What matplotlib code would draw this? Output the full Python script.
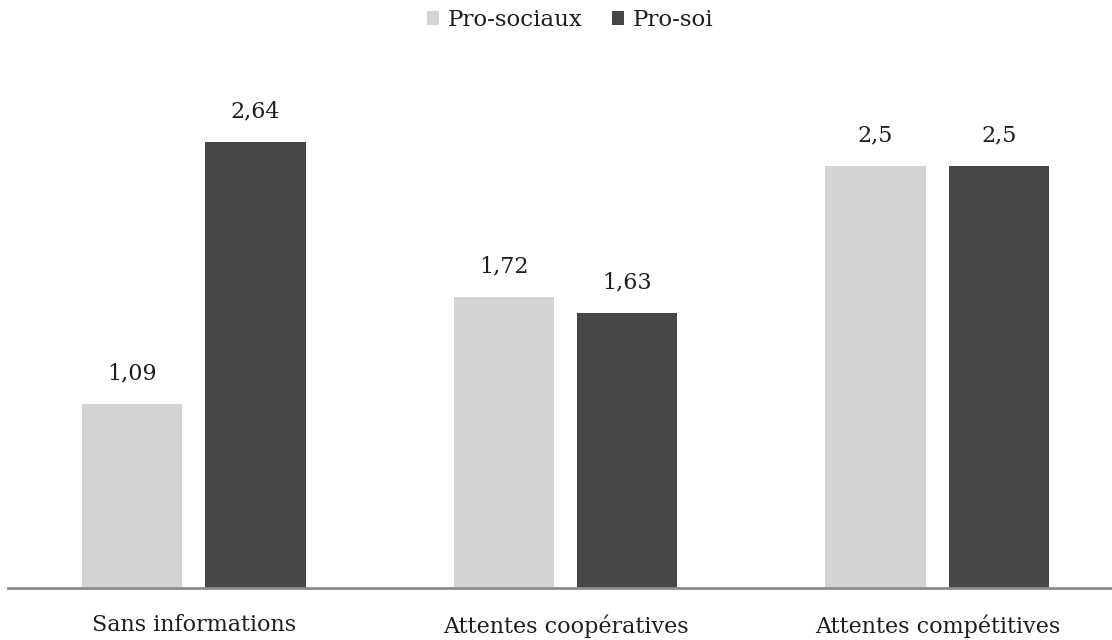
import matplotlib
matplotlib.use('Agg')
import matplotlib.pyplot as plt
import numpy as np

# --- Data ---
categories = ["Sans informations", "Attentes coopératives", "Attentes compétitives"]
series_names = ["Pro-sociaux", "Pro-soi"]
pro_sociaux = [1.09, 1.72, 2.5]
pro_soi = [2.64, 1.63, 2.5]
value_labels_sociaux = ["1,09", "1,72", "2,5"]
value_labels_soi = ["2,64", "1,63", "2,5"]

COLORS = ["#d4d4d4", "#464646"]

plt.rcParams['font.family'] = ['DejaVu Serif']

fig = plt.figure(figsize=(11.12, 6.4), dpi=100)
# axes placed so that the baseline sits at ~588 px from the top
ax = fig.add_axes([8 / 1112, 1 - 588 / 640, 1 - 8 / 1112, (588 - 81) / 640])

x = np.arange(len(categories))
width = 0.27
offset = 0.166

bars1 = ax.bar(x - offset, pro_sociaux, width, color=COLORS[0], label=series_names[0])
bars2 = ax.bar(x + offset, pro_soi, width, color=COLORS[1], label=series_names[1])

for bars, labels in ((bars1, value_labels_sociaux), (bars2, value_labels_soi)):
    for b, lab in zip(bars, labels):
        ax.annotate(lab, (b.get_x() + b.get_width() / 2, b.get_height()),
                    xytext=(0, 14), textcoords='offset points',
                    ha='center', va='bottom', fontsize=16, color='#1e1e1e')

ax.set_xlim(-0.5, 2.47)
ax.set_ylim(0, 3.0)

for side in ('top', 'right', 'left'):
    ax.spines[side].set_visible(False)
ax.spines['bottom'].set_color('#8c8c8c')
ax.spines['bottom'].set_linewidth(2)
ax.set_yticks([])
ax.set_xticks(x)
ax.set_xticklabels(categories, fontsize=16, color='#1e1e1e')
ax.tick_params(axis='x', length=0, pad=19)

fig.legend(loc='upper center', bbox_to_anchor=(0.513, 1.018), ncol=2, frameon=False,
           fontsize=16.5, handlelength=0.5, handleheight=0.5, handletextpad=0.4,
           columnspacing=1.3, labelcolor='#1e1e1e')

fig.savefig('out.png', dpi=100)
plt.close(fig)
